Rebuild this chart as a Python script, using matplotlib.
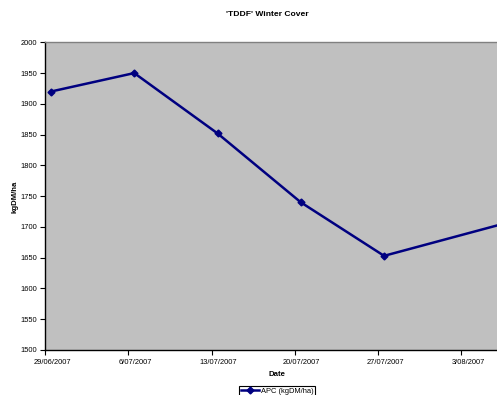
import matplotlib
matplotlib.use("Agg")
import matplotlib.pyplot as plt
import matplotlib.dates as mdates
import matplotlib.transforms as mtransforms
from matplotlib.ticker import FuncFormatter, MultipleLocator
import datetime as dt

plt.rcParams['font.family'] = ['Liberation Sans', 'DejaVu Sans']

dates = ["2007-06-29", "2007-07-06", "2007-07-13", "2007-07-20", "2007-07-27", "2007-08-06"]
apc = [1920, 1950, 1852, 1740, 1653, 1705]
series_name = "APC (kgDM/ha)"
title = "'TDDF' Winter Cover"
xlabel = "Date"
ylabel = "kgDM/ha"
tick_dates = ["2007-06-29", "2007-07-06", "2007-07-13", "2007-07-20", "2007-07-27", "2007-08-03"]

W, H = 497, 395
fig = plt.figure(figsize=(W / 100, H / 100), dpi=100)
left, right, top, bottom = 45, 509, 42.3, 350
ax = fig.add_axes([left / W, 1 - bottom / H, (right - left) / W, (bottom - top) / H])
ax.set_facecolor('#C0C0C0')

# Excel date axis "between dates": each point sits in the middle of its day slot
xs = [dt.datetime.fromisoformat(d) + dt.timedelta(hours=12) for d in dates]
ax.plot(xs, apc, color='#000080', lw=1.8, marker='D', ms=3.5, label=series_name, clip_on=True)

ax.set_xlim(dt.datetime(2007, 6, 29), dt.datetime(2007, 8, 7))
ax.set_ylim(1500, 2000)
ax.yaxis.set_major_locator(MultipleLocator(50))
ax.set_xticks([dt.datetime.fromisoformat(d) for d in tick_dates])

def fmt(x, pos):
    d = mdates.num2date(x)
    return f"{d.day}/{d.month:02d}/{d.year}"
ax.xaxis.set_major_formatter(FuncFormatter(fmt))

ax.tick_params(axis='both', direction='out', length=3.5, width=0.8, labelsize=5.4, colors='black', pad=2)
ax.tick_params(axis='x', pad=3)
shift = mtransforms.ScaledTranslation(7 / 100, 0, fig.dpi_scale_trans)
for lab in ax.get_xticklabels():
    lab.set_horizontalalignment('center')
    lab.set_transform(lab.get_transform() + shift)
for s in ['left', 'bottom']:
    ax.spines[s].set_color('black')
    ax.spines[s].set_linewidth(1.0)
ax.spines['top'].set_color('#808080')
ax.spines['top'].set_linewidth(1.0)
ax.spines['right'].set_visible(False)

fig.text(267.5 / W, 1 - 15 / H, title, ha='center', va='center', fontsize=6.1, fontweight='bold')
fig.text(277 / W, 1 - 375 / H, xlabel, ha='center', va='center', fontsize=5.6, fontweight='bold')
fig.text(15 / W, 1 - 197 / H, ylabel, ha='center', va='center', fontsize=5.6, fontweight='bold', rotation=90)

leg = fig.legend(loc='upper center', bbox_to_anchor=(277 / W, 1 - 386 / H), fontsize=5.4,
                 frameon=True, fancybox=False, edgecolor='black', framealpha=1,
                 handlelength=2.5, borderpad=0.2, handletextpad=0.2, borderaxespad=0)
leg.get_frame().set_linewidth(0.8)

fig.savefig("out.png", dpi=100)
